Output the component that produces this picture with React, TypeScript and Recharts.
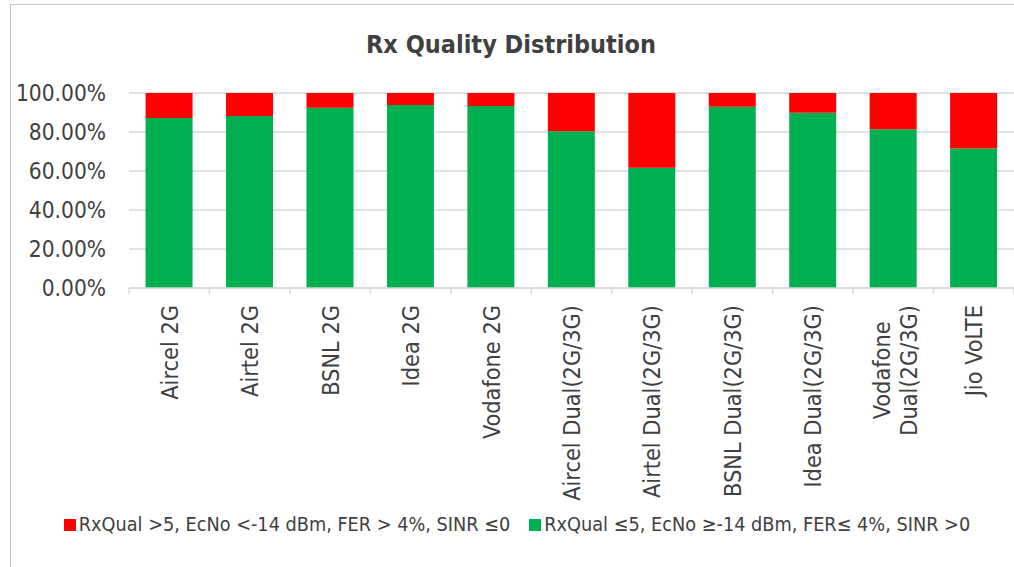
import { BarChart, Bar, XAxis, YAxis, CartesianGrid } from "recharts";

const operators = [
  "Aircel 2G",
  "Airtel 2G",
  "BSNL 2G",
  "Idea 2G",
  "Vodafone 2G",
  "Aircel Dual(2G/3G)",
  "Airtel Dual(2G/3G)",
  "BSNL Dual(2G/3G)",
  "Idea Dual(2G/3G)",
  "Vodafone Dual(2G/3G)",
  "Jio VoLTE",
];

// share of samples with good quality (green, bottom of stack)
const goodQuality = [87.2, 88.2, 92.5, 93.8, 93.3, 80.4, 61.7, 93.0, 89.9, 81.4, 71.5];
// share of samples with poor quality (red, top of stack)
const poorQuality = [12.8, 11.8, 7.5, 6.2, 6.7, 19.6, 38.3, 7.0, 10.1, 18.6, 28.5];

const yTicks = [0, 20, 40, 60, 80, 100];

const poorLabel = "RxQual >5, EcNo <-14 dBm, FER > 4%, SINR \u22640";
const goodLabel = "RxQual \u22645, EcNo \u2265-14 dBm, FER\u2264 4%, SINR >0";

const FONT = "'DejaVu Sans Condensed', 'DejaVu Sans', sans-serif";
const TEXT = "#404040";
const GRID = "#d9d9d9";
const GREEN = "#00B050";
const RED = "#FF0000";

const data = operators.map((name, i) => ({
  name,
  good: goodQuality[i],
  poor: poorQuality[i],
}));

let measureCtx: CanvasRenderingContext2D | null = null;
const measure = (s: string, font: string) => {
  if (!measureCtx) measureCtx = document.createElement("canvas").getContext("2d");
  if (!measureCtx) return s.length * 10;
  measureCtx.font = font;
  return measureCtx.measureText(s).width;
};

// wrap long category names like Excel does
const wrapLabel = (label: string, maxChars = 18) => {
  if (label.length <= maxChars) return [label];
  const cut = label.lastIndexOf(" ", maxChars);
  if (cut <= 0) return [label];
  return [label.slice(0, cut), label.slice(cut + 1)];
};

const CategoryTick = (props: any) => {
  const { x, y, payload, index, visibleTicksCount } = props;
  const half = payload.offset || 0;
  const lines = wrapLabel(String(payload.value));
  const fontSize = 23.3;
  const lineGap = 27;
  const top = y + 17;
  const widths = lines.map((l) => measure(l, `${fontSize}px 'DejaVu Sans Condensed', 'DejaVu Sans'`));
  const maxW = Math.max(...widths);

  return (
    <g>
      <line x1={x - half} x2={x - half} y1={y} y2={y + 6} stroke={GRID} strokeWidth={1.5} />
      {index === visibleTicksCount - 1 && (
        <line x1={x + half} x2={x + half} y1={y} y2={y + 6} stroke={GRID} strokeWidth={1.5} />
      )}
      {lines.length === 1 ? (
        <text
          transform={`translate(${x}, ${top}) rotate(-90)`}
          textAnchor="end"
          dominantBaseline="central"
          fontFamily={FONT}
          fontSize={fontSize}
          fill={TEXT}
        >
          {lines[0]}
        </text>
      ) : (
        lines.map((line, i) => (
          <text
            key={i}
            transform={`translate(${x + 2 + (i - (lines.length - 1) / 2) * lineGap}, ${top + maxW / 2}) rotate(-90)`}
            textAnchor="middle"
            dominantBaseline="central"
            fontFamily={FONT}
            fontSize={fontSize}
            fill={TEXT}
          >
            {line}
          </text>
        ))
      )}
    </g>
  );
};

const LegendItem = ({ color, label }: { color: string; label: string }) => (
  <div style={{ display: "flex", alignItems: "center" }}>
    <span style={{ width: 12, height: 12, background: color, marginRight: 3 }} />
    <span>{label}</span>
  </div>
);

export default function App() {
  return (
    <div
      style={{
        position: "absolute",
        left: 0,
        top: 0,
        width: 1014,
        height: 567,
        overflow: "hidden",
        background: "#fff",
        fontFamily: FONT,
        color: TEXT,
      }}
    >
      <div
        style={{
          position: "absolute",
          left: 10,
          top: 4,
          width: 1010,
          height: 600,
          border: "1.5px solid #c4c4c4",
          boxSizing: "border-box",
        }}
      />
      <div
        style={{
          position: "absolute",
          left: 0,
          top: 32,
          width: 1022,
          textAlign: "center",
          fontSize: 25,
          lineHeight: "25px",
          fontWeight: "bold",
        }}
      >
        Rx Quality Distribution
      </div>
      <div style={{ position: "absolute", left: 0, top: 0 }}>
        <BarChart
          width={1014}
          height={567}
          data={data}
          margin={{ top: 93, right: 0, bottom: 0, left: 0 }}
          barCategoryGap="20.6%"
        >
          <CartesianGrid vertical={false} stroke={GRID} strokeWidth={1.5} />
          <XAxis
            dataKey="name"
            interval={0}
            height={279}
            axisLine={{ stroke: GRID, strokeWidth: 1.5 }}
            tickLine={false}
            tickSize={0}
            tickMargin={0}
            tick={<CategoryTick />}
          />
          <YAxis
            width={129}
            domain={[0, 100]}
            ticks={yTicks}
            axisLine={false}
            tickLine={false}
            tickSize={0}
            tickMargin={23}
            tick={{ fontSize: 22.5, fill: TEXT, fontFamily: FONT }}
            tickFormatter={(v: number) => `${v.toFixed(2)}%`}
          />
          <Bar dataKey="good" stackId="q" fill={GREEN} isAnimationActive={false} />
          <Bar dataKey="poor" stackId="q" fill={RED} isAnimationActive={false} />
        </BarChart>
      </div>
      <div
        style={{
          position: "absolute",
          left: 10,
          top: 515,
          width: 1014,
          display: "flex",
          justifyContent: "center",
          gap: 19,
          fontSize: 19.7,
          lineHeight: "20px",
        }}
      >
        <LegendItem color={RED} label={poorLabel} />
        <LegendItem color={GREEN} label={goodLabel} />
      </div>
    </div>
  );
}
